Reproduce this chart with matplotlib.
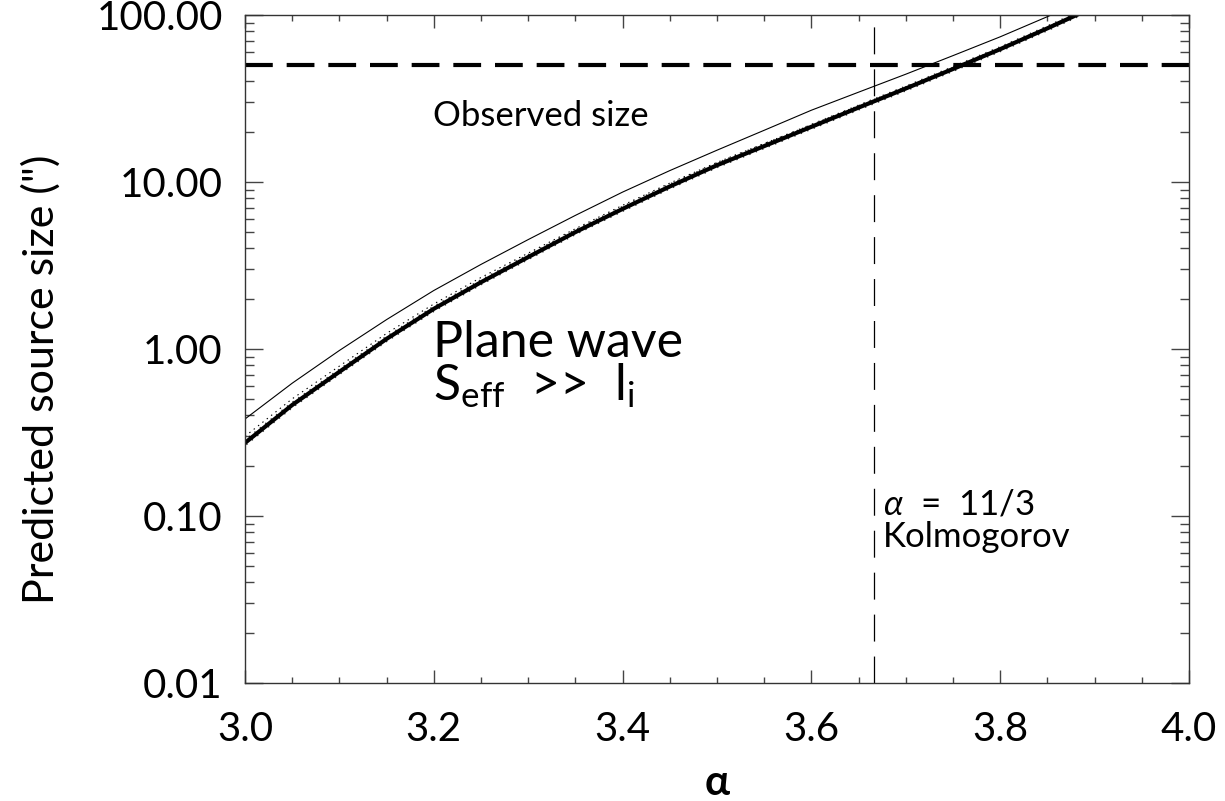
import numpy as np
import matplotlib
matplotlib.use("Agg")
import matplotlib.pyplot as plt
from matplotlib.ticker import FixedLocator, FixedFormatter, LogLocator, MultipleLocator, NullFormatter

plt.rcParams.update({
    "font.family": ["Lato", "DejaVu Sans"],
    "mathtext.fontset": "custom",
    "mathtext.rm": "Lato",
    "mathtext.it": "Lato:italic",
    "mathtext.bf": "Lato:bold",
    "lines.scale_dashes": False,
})

# spectral index alpha and predicted source sizes (arcsec)
alpha = [3.0, 3.05, 3.1, 3.15, 3.2, 3.25, 3.3, 3.35, 3.4, 3.45,
         3.5, 3.55, 3.6, 3.65, 3.7, 3.75, 3.8, 3.85, 3.9]
size_thick = [0.274, 0.462, 0.73, 1.15, 1.74, 2.51, 3.55, 5.01, 6.9, 9.4,
              12.6, 16.4, 21.4, 27.9, 36.3, 47.5, 62.4, 83.2, 112.0]
size_dotted = [0.300, 0.503, 0.79, 1.24, 1.86, 2.68, 3.75, 5.25, 7.25, 9.85,
               13.1, 17.0, 22.0, 28.7, 37.1, 48.5, 63.6, 84.8, 114.0]
size_thin = [0.381, 0.624, 0.98, 1.50, 2.24, 3.21, 4.52, 6.31, 8.7, 11.7,
             15.5, 20.4, 26.9, 34.5, 44.2, 57.1, 74.0, 97.7, 129.0]

observed_size = 50.0
alpha_kolmogorov = 11.0 / 3.0

ytick_vals = [0.01, 0.1, 1.0, 10.0, 100.0]
ytick_labels = ["0.01", "0.10", "1.00", "10.00", "100.00"]
xtick_vals = [3.0, 3.2, 3.4, 3.6, 3.8, 4.0]
xtick_labels = ["3.0", "3.2", "3.4", "3.6", "3.8", "4.0"]

fig = plt.figure(figsize=(12.25, 8.01), dpi=100)
ax = fig.add_axes([0.2, 0.1473, 0.7706, 0.834])

ax.plot(alpha, size_thin, color="black", lw=0.8)
ax.plot(alpha, size_dotted, color="black", lw=0.8, linestyle=(0, (1.0, 3.0)))
ax.plot(alpha, size_thick, color="black", lw=3.0, solid_capstyle="butt")
ax.plot(alpha, size_thick, color="black", lw=4.2, linestyle=(0, (1.0, 4.0)), alpha=0.8)

ax.axhline(observed_size, color="black", lw=3.0, linestyle=(0, (20, 10)))
ax.axvline(alpha_kolmogorov, color="black", lw=0.9, linestyle=(0, (19.4, 10.8)))

ax.set_yscale("log")
ax.set_xlim(3.0, 4.0)
ax.set_ylim(0.01, 100.0)

ax.yaxis.set_major_locator(FixedLocator(ytick_vals))
ax.yaxis.set_major_formatter(FixedFormatter(ytick_labels))
ax.yaxis.set_minor_locator(LogLocator(base=10, subs=np.arange(2, 10), numticks=20))
ax.yaxis.set_minor_formatter(NullFormatter())
ax.xaxis.set_major_locator(FixedLocator(xtick_vals))
ax.xaxis.set_major_formatter(FixedFormatter(xtick_labels))
ax.xaxis.set_minor_locator(MultipleLocator(0.05))

ax.tick_params(axis="both", which="both", direction="in", top=True, right=True,
               color="#444444", width=1.0, labelsize=29)
ax.tick_params(axis="x", which="major", length=9.5, pad=20)
ax.tick_params(axis="x", which="minor", length=4.5)
ax.tick_params(axis="y", which="major", length=13, pad=16)
ax.tick_params(axis="y", which="minor", length=6.5)
for sp in ax.spines.values():
    sp.set_linewidth(1.0)
    sp.set_color("#333333")

ax.set_ylabel('Predicted source size (")', fontsize=31, labelpad=26)
ax.yaxis.label.set_y(0.455)
ax.set_xlabel(r"$\mathbf{\alpha}$", fontsize=30, labelpad=12)

ax.text(3.199, 21.6, "Observed size", fontsize=25, va="baseline", ha="left")
ax.text(3.199, 0.495, "Plane wave\n" + r"S$_{\rm eff}$  >>  l$_{\rm i}$",
        fontsize=36, va="baseline", ha="left", linespacing=0.87)
ax.text(3.676, 0.1014, r"$\alpha$  =  11/3", fontsize=25, va="baseline", ha="left")
ax.text(3.676, 0.0652, "Kolmogorov", fontsize=25, va="baseline", ha="left")

fig.savefig("out.png", dpi=100)
